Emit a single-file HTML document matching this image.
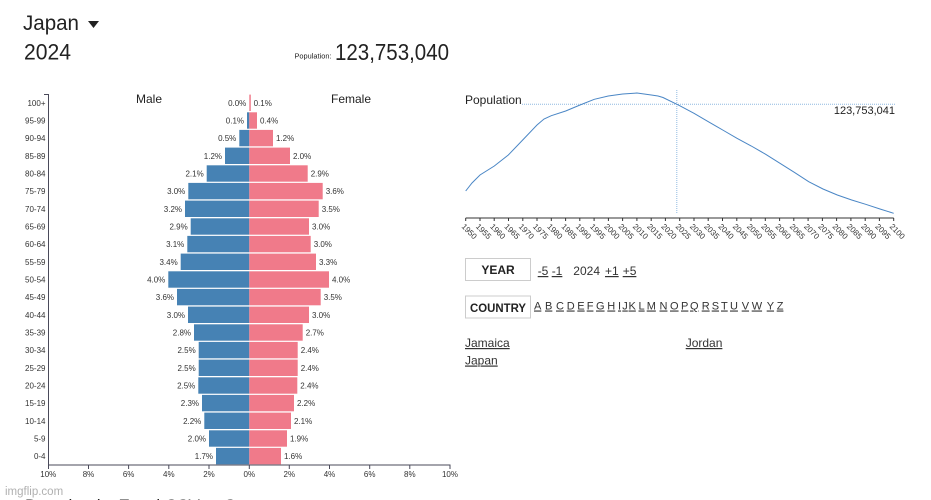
<!DOCTYPE html>
<html><head><meta charset="utf-8"><style>
html,body{margin:0;padding:0;background:#fff;width:931px;height:500px;overflow:hidden}
svg{position:absolute;left:0;top:0;font-family:"Liberation Sans",sans-serif}
.a{font-size:8px;fill:#333}
.u{text-decoration:underline}
</style></head><body>
<svg width="931" height="500" viewBox="0 0 931 500" xmlns="http://www.w3.org/2000/svg">
<!-- header -->
<text x="23" y="30" font-size="21.5" fill="#222" textLength="56" lengthAdjust="spacingAndGlyphs">Japan</text>
<polygon points="88,21 99,21 93.5,28" fill="#222"/>
<text x="24" y="59.5" font-size="22" fill="#222" textLength="47" lengthAdjust="spacingAndGlyphs">2024</text>
<text x="294.5" y="58.5" font-size="7" fill="#222" textLength="37" lengthAdjust="spacingAndGlyphs">Population:</text>
<text x="335" y="60" font-size="23" fill="#222" textLength="114" lengthAdjust="spacingAndGlyphs">123,753,040</text>

<!-- pyramid titles -->
<text x="136" y="103" font-size="12" fill="#222">Male</text>
<text x="331" y="103" font-size="12" fill="#222">Female</text>

<!-- male bars -->
<g fill="#4682b4">
<rect x="247" y="112.3" width="2.3" height="16.4"/>
<rect x="239.3" y="129.9" width="10" height="16.4"/>
<rect x="225" y="147.6" width="24.3" height="16.4"/>
<rect x="206.7" y="165.3" width="42.6" height="16.4"/>
<rect x="188.3" y="182.9" width="61" height="16.4"/>
<rect x="185" y="200.6" width="64.3" height="16.4"/>
<rect x="190.7" y="218.3" width="58.6" height="16.4"/>
<rect x="187.3" y="235.9" width="62" height="16.4"/>
<rect x="180.7" y="253.6" width="68.6" height="16.4"/>
<rect x="168.3" y="271.3" width="81" height="16.4"/>
<rect x="177" y="288.9" width="72.3" height="16.4"/>
<rect x="188" y="306.6" width="61.3" height="16.4"/>
<rect x="194" y="324.3" width="55.3" height="16.4"/>
<rect x="198.7" y="341.9" width="50.6" height="16.4"/>
<rect x="198.7" y="359.6" width="50.6" height="16.4"/>
<rect x="198.3" y="377.3" width="51" height="16.4"/>
<rect x="202" y="394.9" width="47.3" height="16.4"/>
<rect x="204.3" y="412.6" width="45" height="16.4"/>
<rect x="209" y="430.3" width="40.3" height="16.4"/>
<rect x="216" y="447.9" width="33.3" height="16.4"/>
</g>
<!-- female bars -->
<g fill="#f07a8a">
<rect x="249.3" y="94.6" width="1.5" height="16.4"/>
<rect x="249.3" y="112.3" width="7.7" height="16.4"/>
<rect x="249.3" y="129.9" width="23.7" height="16.4"/>
<rect x="249.3" y="147.6" width="40.7" height="16.4"/>
<rect x="249.3" y="165.3" width="58.4" height="16.4"/>
<rect x="249.3" y="182.9" width="73.4" height="16.4"/>
<rect x="249.3" y="200.6" width="69.4" height="16.4"/>
<rect x="249.3" y="218.3" width="59.7" height="16.4"/>
<rect x="249.3" y="235.9" width="61.4" height="16.4"/>
<rect x="249.3" y="253.6" width="66.7" height="16.4"/>
<rect x="249.3" y="271.3" width="79.7" height="16.4"/>
<rect x="249.3" y="288.9" width="71.4" height="16.4"/>
<rect x="249.3" y="306.6" width="59.7" height="16.4"/>
<rect x="249.3" y="324.3" width="53.4" height="16.4"/>
<rect x="249.3" y="341.9" width="48.4" height="16.4"/>
<rect x="249.3" y="359.6" width="48.4" height="16.4"/>
<rect x="249.3" y="377.3" width="48" height="16.4"/>
<rect x="249.3" y="394.9" width="44.7" height="16.4"/>
<rect x="249.3" y="412.6" width="41.7" height="16.4"/>
<rect x="249.3" y="430.3" width="37.7" height="16.4"/>
<rect x="249.3" y="447.9" width="31.7" height="16.4"/>
</g>

<!-- male labels -->
<g class="a" text-anchor="end">
<text x="246.3" y="105.8">0.0%</text>
<text x="244" y="123.5">0.1%</text>
<text x="236.3" y="141.1">0.5%</text>
<text x="222" y="158.8">1.2%</text>
<text x="203.7" y="176.5">2.1%</text>
<text x="185.3" y="194.1">3.0%</text>
<text x="182" y="211.8">3.2%</text>
<text x="187.7" y="229.5">2.9%</text>
<text x="184.3" y="247.1">3.1%</text>
<text x="177.7" y="264.8">3.4%</text>
<text x="165.3" y="282.5">4.0%</text>
<text x="174" y="300.1">3.6%</text>
<text x="185" y="317.8">3.0%</text>
<text x="191" y="335.5">2.8%</text>
<text x="195.7" y="353.1">2.5%</text>
<text x="195.7" y="370.8">2.5%</text>
<text x="195.3" y="388.5">2.5%</text>
<text x="199" y="406.1">2.3%</text>
<text x="201.3" y="423.8">2.2%</text>
<text x="206" y="441.5">2.0%</text>
<text x="213" y="459.1">1.7%</text>
</g>
<!-- female labels -->
<g class="a">
<text x="253.6" y="105.8">0.1%</text>
<text x="260" y="123.5">0.4%</text>
<text x="276" y="141.1">1.2%</text>
<text x="293" y="158.8">2.0%</text>
<text x="310.7" y="176.5">2.9%</text>
<text x="325.7" y="194.1">3.6%</text>
<text x="321.7" y="211.8">3.5%</text>
<text x="312" y="229.5">3.0%</text>
<text x="313.7" y="247.1">3.0%</text>
<text x="319" y="264.8">3.3%</text>
<text x="332" y="282.5">4.0%</text>
<text x="323.7" y="300.1">3.5%</text>
<text x="312" y="317.8">3.0%</text>
<text x="305.7" y="335.5">2.7%</text>
<text x="300.7" y="353.1">2.4%</text>
<text x="300.7" y="370.8">2.4%</text>
<text x="300.3" y="388.5">2.4%</text>
<text x="297" y="406.1">2.2%</text>
<text x="294" y="423.8">2.1%</text>
<text x="290" y="441.5">1.9%</text>
<text x="284" y="459.1">1.6%</text>
</g>
<!-- age labels -->
<g class="a" text-anchor="end">
<text x="45.5" y="105.8">100+</text>
<text x="45.5" y="123.5">95-99</text>
<text x="45.5" y="141.1">90-94</text>
<text x="45.5" y="158.8">85-89</text>
<text x="45.5" y="176.5">80-84</text>
<text x="45.5" y="194.1">75-79</text>
<text x="45.5" y="211.8">70-74</text>
<text x="45.5" y="229.5">65-69</text>
<text x="45.5" y="247.1">60-64</text>
<text x="45.5" y="264.8">55-59</text>
<text x="45.5" y="282.5">50-54</text>
<text x="45.5" y="300.1">45-49</text>
<text x="45.5" y="317.8">40-44</text>
<text x="45.5" y="335.5">35-39</text>
<text x="45.5" y="353.1">30-34</text>
<text x="45.5" y="370.8">25-29</text>
<text x="45.5" y="388.5">20-24</text>
<text x="45.5" y="406.1">15-19</text>
<text x="45.5" y="423.8">10-14</text>
<text x="45.5" y="441.5">5-9</text>
<text x="45.5" y="459.1">0-4</text>
</g>
<!-- pyramid axes -->
<path d="M44,94.5H48.5V465H450.5" fill="none" stroke="#4a4a5a" stroke-width="1"/>
<g stroke="#4a4a5a" stroke-width="1">
<line x1="48.5" y1="465" x2="48.5" y2="469"/>
<line x1="88.5" y1="465" x2="88.5" y2="469"/>
<line x1="128.6" y1="465" x2="128.6" y2="469"/>
<line x1="168.8" y1="465" x2="168.8" y2="469"/>
<line x1="209" y1="465" x2="209" y2="469"/>
<line x1="249.3" y1="465" x2="249.3" y2="469"/>
<line x1="289.3" y1="465" x2="289.3" y2="469"/>
<line x1="329.5" y1="465" x2="329.5" y2="469"/>
<line x1="369.7" y1="465" x2="369.7" y2="469"/>
<line x1="409.8" y1="465" x2="409.8" y2="469"/>
<line x1="450" y1="465" x2="450" y2="469"/>
</g>
<g class="a" text-anchor="middle">
<text x="48.3" y="477">10%</text>
<text x="88.5" y="477">8%</text>
<text x="128.6" y="477">6%</text>
<text x="168.8" y="477">4%</text>
<text x="209" y="477">2%</text>
<text x="249.3" y="477">0%</text>
<text x="289.3" y="477">2%</text>
<text x="329.5" y="477">4%</text>
<text x="369.7" y="477">6%</text>
<text x="409.8" y="477">8%</text>
<text x="450" y="477">10%</text>
</g>

<!-- population line chart -->
<text x="465" y="104" font-size="12" fill="#222">Population</text>
<line x1="522" y1="104.2" x2="895" y2="104.2" stroke="#8fb9e0" stroke-width="1" stroke-dasharray="1,1"/>
<line x1="676.8" y1="90" x2="676.8" y2="214" stroke="#8fb9e0" stroke-width="1" stroke-dasharray="1,1"/>
<text x="895" y="114" font-size="11" fill="#222" text-anchor="end">123,753,041</text>
<polyline fill="none" stroke="#4a86c5" stroke-width="1" points="465.7,191 472,183 480,175 494.3,166 508.3,155 522.7,140 537,125 544,119 551.3,115.7 565.7,111 580,105 594.3,99.3 608.3,96 622.7,94 637,93 651.3,95 658,96 663,97.5 679.7,105.7 694,113.3 708.3,121.7 722.7,130 737,138.3 751.3,146 765.7,154.3 780,163.3 794.3,172.3 808.7,181.7 823,189 837.3,195 851.7,200 865.7,204.3 880,209 893.7,213.3"/>
<line x1="465.7" y1="218" x2="893.7" y2="218" stroke="#333" stroke-width="1"/>
<g stroke="#333" stroke-width="1">
<path d="M465.7,218v3M480,218v3M494.2,218v3M508.5,218v3M522.8,218v3M537,218v3M551.3,218v3M565.6,218v3M579.8,218v3M594.1,218v3M608.4,218v3M622.6,218v3M636.9,218v3M651.2,218v3M665.4,218v3M679.7,218v3M694,218v3M708.2,218v3M722.5,218v3M736.8,218v3M751,218v3M765.3,218v3M779.6,218v3M793.8,218v3M808.1,218v3M822.4,218v3M836.6,218v3M850.9,218v3M865.2,218v3M879.4,218v3M893.7,218v3"/>
</g>
<g class="a" font-size="8">
<text transform="translate(461.1,227) rotate(45)">1950</text>
<text transform="translate(475.4,227) rotate(45)">1955</text>
<text transform="translate(489.6,227) rotate(45)">1960</text>
<text transform="translate(503.9,227) rotate(45)">1965</text>
<text transform="translate(518.2,227) rotate(45)">1970</text>
<text transform="translate(532.4,227) rotate(45)">1975</text>
<text transform="translate(546.7,227) rotate(45)">1980</text>
<text transform="translate(561,227) rotate(45)">1985</text>
<text transform="translate(575.2,227) rotate(45)">1990</text>
<text transform="translate(589.5,227) rotate(45)">1995</text>
<text transform="translate(603.8,227) rotate(45)">2000</text>
<text transform="translate(618,227) rotate(45)">2005</text>
<text transform="translate(632.3,227) rotate(45)">2010</text>
<text transform="translate(646.6,227) rotate(45)">2015</text>
<text transform="translate(660.8,227) rotate(45)">2020</text>
<text transform="translate(675.1,227) rotate(45)">2025</text>
<text transform="translate(689.4,227) rotate(45)">2030</text>
<text transform="translate(703.6,227) rotate(45)">2035</text>
<text transform="translate(717.9,227) rotate(45)">2040</text>
<text transform="translate(732.2,227) rotate(45)">2045</text>
<text transform="translate(746.4,227) rotate(45)">2050</text>
<text transform="translate(760.7,227) rotate(45)">2055</text>
<text transform="translate(775,227) rotate(45)">2060</text>
<text transform="translate(789.2,227) rotate(45)">2065</text>
<text transform="translate(803.5,227) rotate(45)">2070</text>
<text transform="translate(817.8,227) rotate(45)">2075</text>
<text transform="translate(832,227) rotate(45)">2080</text>
<text transform="translate(846.3,227) rotate(45)">2085</text>
<text transform="translate(860.6,227) rotate(45)">2090</text>
<text transform="translate(874.8,227) rotate(45)">2095</text>
<text transform="translate(889.1,227) rotate(45)">2100</text>
</g>

<!-- controls -->
<rect x="465.5" y="258.5" width="65" height="22" fill="#fff" stroke="#ccc" stroke-width="1"/>
<text x="498" y="274" font-size="12" font-weight="bold" fill="#222" text-anchor="middle">YEAR</text>
<g font-size="12" fill="#333">
<text class="u" x="537.7" y="275">-5</text>
<text class="u" x="551.7" y="275">-1</text>
<text x="573.3" y="275">2024</text>
<text class="u" x="605" y="275">+1</text>
<text class="u" x="622.7" y="275">+5</text>
</g>
<rect x="465.5" y="296" width="65" height="22" fill="#fff" stroke="#ccc" stroke-width="1"/>
<text x="498" y="312" font-size="11.5" font-weight="bold" fill="#222" text-anchor="middle" textLength="56" lengthAdjust="spacingAndGlyphs">COUNTRY</text>
<g font-size="11" fill="#333" class="u">
<text x="534" y="309.5">A</text>
<text x="545" y="309.5">B</text>
<text x="556" y="309.5">C</text>
<text x="566.7" y="309.5">D</text>
<text x="577.3" y="309.5">E</text>
<text x="586.7" y="309.5">F</text>
<text x="596" y="309.5">G</text>
<text x="607.3" y="309.5">H</text>
<text x="618" y="309.5">I</text>
<text x="622.3" y="309.5">J</text>
<text x="628.5" y="309.5">K</text>
<text x="638.5" y="309.5">L</text>
<text x="646.7" y="309.5">M</text>
<text x="659.5" y="309.5">N</text>
<text x="670" y="309.5">O</text>
<text x="681" y="309.5">P</text>
<text x="690" y="309.5">Q</text>
<text x="701.7" y="309.5">R</text>
<text x="711.7" y="309.5">S</text>
<text x="721" y="309.5">T</text>
<text x="730" y="309.5">U</text>
<text x="741.7" y="309.5">V</text>
<text x="751.7" y="309.5">W</text>
<text x="766.7" y="309.5">Y</text>
<text x="776.7" y="309.5">Z</text>
</g>
<g font-size="12" fill="#333" class="u">
<text x="465" y="347">Jamaica</text>
<text x="465" y="364.5">Japan</text>
<text x="685.7" y="347">Jordan</text>
</g>

<!-- bottom -->
<text x="5" y="495" font-size="11.5" fill="#b0b0b0">imgflip.com</text>
<text x="25" y="511" font-size="17" fill="#222">Downloads: Excel CSV or S</text>
</svg>
</body></html>
